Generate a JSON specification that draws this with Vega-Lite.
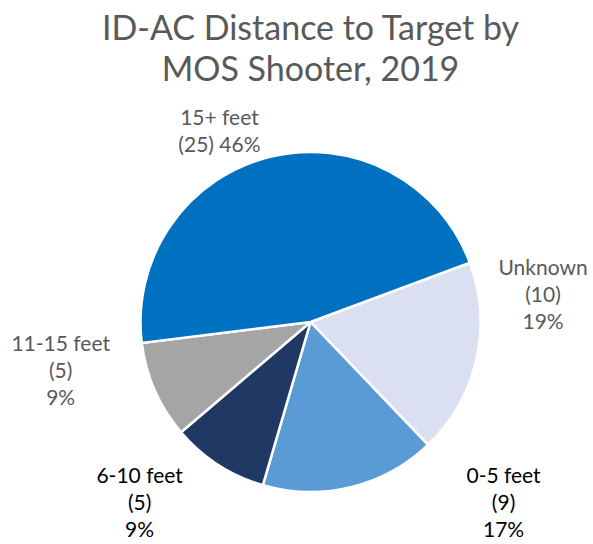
{
  "$schema": "https://vega.github.io/schema/vega-lite/v6.json",
  "width": 565,
  "height": 444,
  "autosize": {"type": "none"},
  "padding": {"top": 100, "left": 28, "right": 0, "bottom": 0},
  "background": "white",
  "title": {
    "text": ["ID-AC Distance to Target by", "MOS Shooter, 2019"],
    "font": "Lato",
    "fontSize": 34,
    "fontWeight": "normal",
    "color": "#595959",
    "anchor": "middle",
    "frame": "group",
    "lineHeight": 41,
    "offset": 12
  },
  "data": {
    "values": [
      {"category": "Unknown", "count": 10, "label": "Unknown\n(10)\n19%", "idx": 1},
      {"category": "0-5 feet", "count": 9, "label": "0-5 feet\n(9)\n17%", "idx": 2},
      {"category": "6-10 feet", "count": 5, "label": "6-10 feet\n(5)\n9%", "idx": 3},
      {"category": "11-15 feet", "count": 5, "label": "11-15 feet\n(5)\n9%", "idx": 4},
      {"category": "15+ feet", "count": 25, "label": "15+ feet\n(25) 46%", "idx": 5}
    ]
  },
  "encoding": {
    "theta": {"field": "count", "type": "quantitative", "stack": true, "scale": {"range": [1.2147, 7.4979]}},
    "order": {"field": "idx", "type": "quantitative", "sort": "ascending"}
  },
  "layer": [
    {
      "mark": {"type": "arc", "outerRadius": 170, "stroke": "white", "strokeWidth": 2.5},
      "encoding": {
        "color": {
          "field": "category",
          "type": "nominal",
          "scale": {
            "domain": ["Unknown", "0-5 feet", "6-10 feet", "11-15 feet", "15+ feet"],
            "range": ["#DAE0F2", "#5B9BD5", "#1F3864", "#A5A5A5", "#0070C0"]
          },
          "legend": null
        }
      }
    },
    {
      "mark": {
        "type": "text",
        "radius": 215,
        "font": "Lato",
        "fontSize": 21,
        "lineBreak": "\n",
        "lineHeight": 27,
        "align": "center",
        "baseline": "middle",
        "dx": {"expr": "datum.idx == 1 ? 23 : datum.idx == 2 ? 142 : datum.idx == 3 ? -54 : datum.idx == 4 ? -53 : -40"},
        "dy": {"expr": "datum.idx == 1 ? -101 : datum.idx == 2 ? -54 : datum.idx == 3 ? -25 : datum.idx == 4 ? -64 : 6"}
      },
      "encoding": {
        "text": {"field": "label", "type": "nominal"},
        "color": {"condition": {"test": "datum.idx == 2 || datum.idx == 3", "value": "#000000"}, "value": "#595959"}
      }
    }
  ]
}
